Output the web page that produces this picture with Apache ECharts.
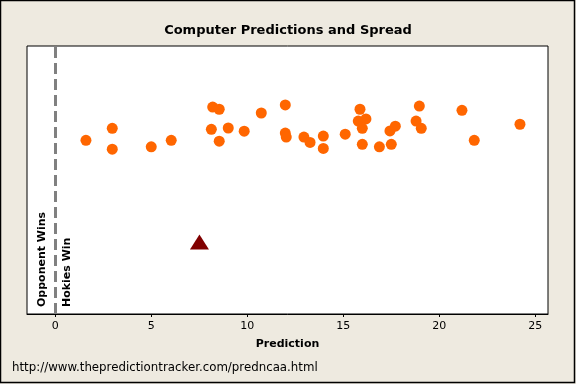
<!DOCTYPE html>
<html>
<head>
<meta charset="utf-8">
<script src="https://cdn.jsdelivr.net/npm/echarts@6/dist/echarts.min.js"></script>
<style>
html,body{margin:0;padding:0;background:#EEEAE0;}
#chart{width:576px;height:384px;}
</style>
</head>
<body>
<div id="chart"></div>
<script>
// Computer predictions (points for Hokies) and vertical jitter (arbitrary 0-100)
var predictions = [1.60, 2.97, 2.97, 5.00, 6.04, 8.20, 8.54, 8.13, 8.54, 9.01, 9.84, 10.73, 11.98, 11.98, 12.03,
                   12.95, 13.27, 13.96, 13.96, 15.10, 15.87, 15.78, 16.18, 15.99, 15.99, 16.88, 17.50, 17.43, 17.71,
                   18.96, 18.79, 19.06, 21.18, 21.82, 24.20];
var jitter = [64.8, 69.3, 61.5, 62.4, 64.8, 77.2, 76.4, 68.9, 64.5, 69.4, 68.2, 75.0, 78.0, 67.5, 66.0,
              66.0, 64.0, 66.4, 61.8, 67.1, 76.4, 72.0, 72.8, 69.3, 63.3, 62.4, 63.3, 68.3, 70.1,
              77.6, 72.0, 69.3, 76.0, 64.8, 70.8];
var spread = [7.51];
var spreadY = [26.9];
var refLine = [0];
var xTicks = [0, 5, 10, 15, 20, 25];

var chart = echarts.init(document.getElementById('chart'));
var pts = predictions.map(function (v, i) { return [v, jitter[i]]; });
var sp = spread.map(function (v, i) { return [v, spreadY[i]]; });

chart.setOption({
  animation: false,
  backgroundColor: '#EEEAE0',
  title: {
    text: 'Computer Predictions and Spread',
    left: 'center',
    top: 19,
    textStyle: { fontFamily: 'DejaVu Sans', fontWeight: 'bold', fontSize: 13, color: '#000' }
  },
  grid: {
    left: 27, right: 28, top: 46, bottom: 70,
    show: true, backgroundColor: '#fff', borderColor: '#000', borderWidth: 1
  },
  xAxis: {
    type: 'value',
    min: -1.47, max: 25.66,
    name: 'Prediction',
    nameLocation: 'middle',
    nameGap: 25,
    nameTextStyle: { fontFamily: 'DejaVu Sans', fontWeight: 'bold', fontSize: 11, color: '#000' },
    splitLine: { show: false },
    axisLine: { show: true, lineStyle: { color: '#000', width: 1 } },
    axisTick: { show: true, length: 3, customValues: xTicks, lineStyle: { color: '#000' } },
    axisLabel: { customValues: xTicks, margin: 7, fontFamily: 'DejaVu Sans', fontSize: 11, color: '#000' }
  },
  yAxis: {
    type: 'value', min: 0, max: 100,
    show: false, splitLine: { show: false }
  },
  graphic: [
    { type: 'rect', shape: { x: 0.5, y: 0.5, width: 574, height: 382 }, style: { fill: null, stroke: '#000', lineWidth: 1.5 }, z: 100 },
    { type: 'text', x: 12, y: 368, style: { text: 'http://www.thepredictiontracker.com/predncaa.html', fontFamily: 'DejaVu Sans', fontSize: 11.8, fill: '#000', verticalAlign: 'middle', align: 'left' } },
    { type: 'text', x: 42, y: 307, rotation: Math.PI / 2, style: { text: 'Opponent Wins', fontFamily: 'DejaVu Sans', fontWeight: 'bold', fontSize: 11, fill: '#000', verticalAlign: 'middle', align: 'left' }, z: 50 },
    { type: 'text', x: 67, y: 307, rotation: Math.PI / 2, style: { text: 'Hokies Win', fontFamily: 'DejaVu Sans', fontWeight: 'bold', fontSize: 11, fill: '#000', verticalAlign: 'middle', align: 'left' }, z: 50 }
  ],
  series: [
    {
      type: 'scatter',
      data: pts,
      symbol: 'circle',
      symbolSize: 11,
      itemStyle: { color: '#FF6600', opacity: 1 },
      markLine: {
        silent: true,
        symbol: 'none',
        label: { show: false },
        lineStyle: { color: '#808080', type: [11, 5], width: 3 },
        data: refLine.map(function (v) { return { xAxis: v }; })
      },
      z: 3
    },
    {
      type: 'scatter',
      data: sp,
      symbol: 'triangle',
      symbolSize: [19, 15],
      itemStyle: { color: '#800000', opacity: 1 },
      z: 4
    }
  ]
});
</script>
</body>
</html>
